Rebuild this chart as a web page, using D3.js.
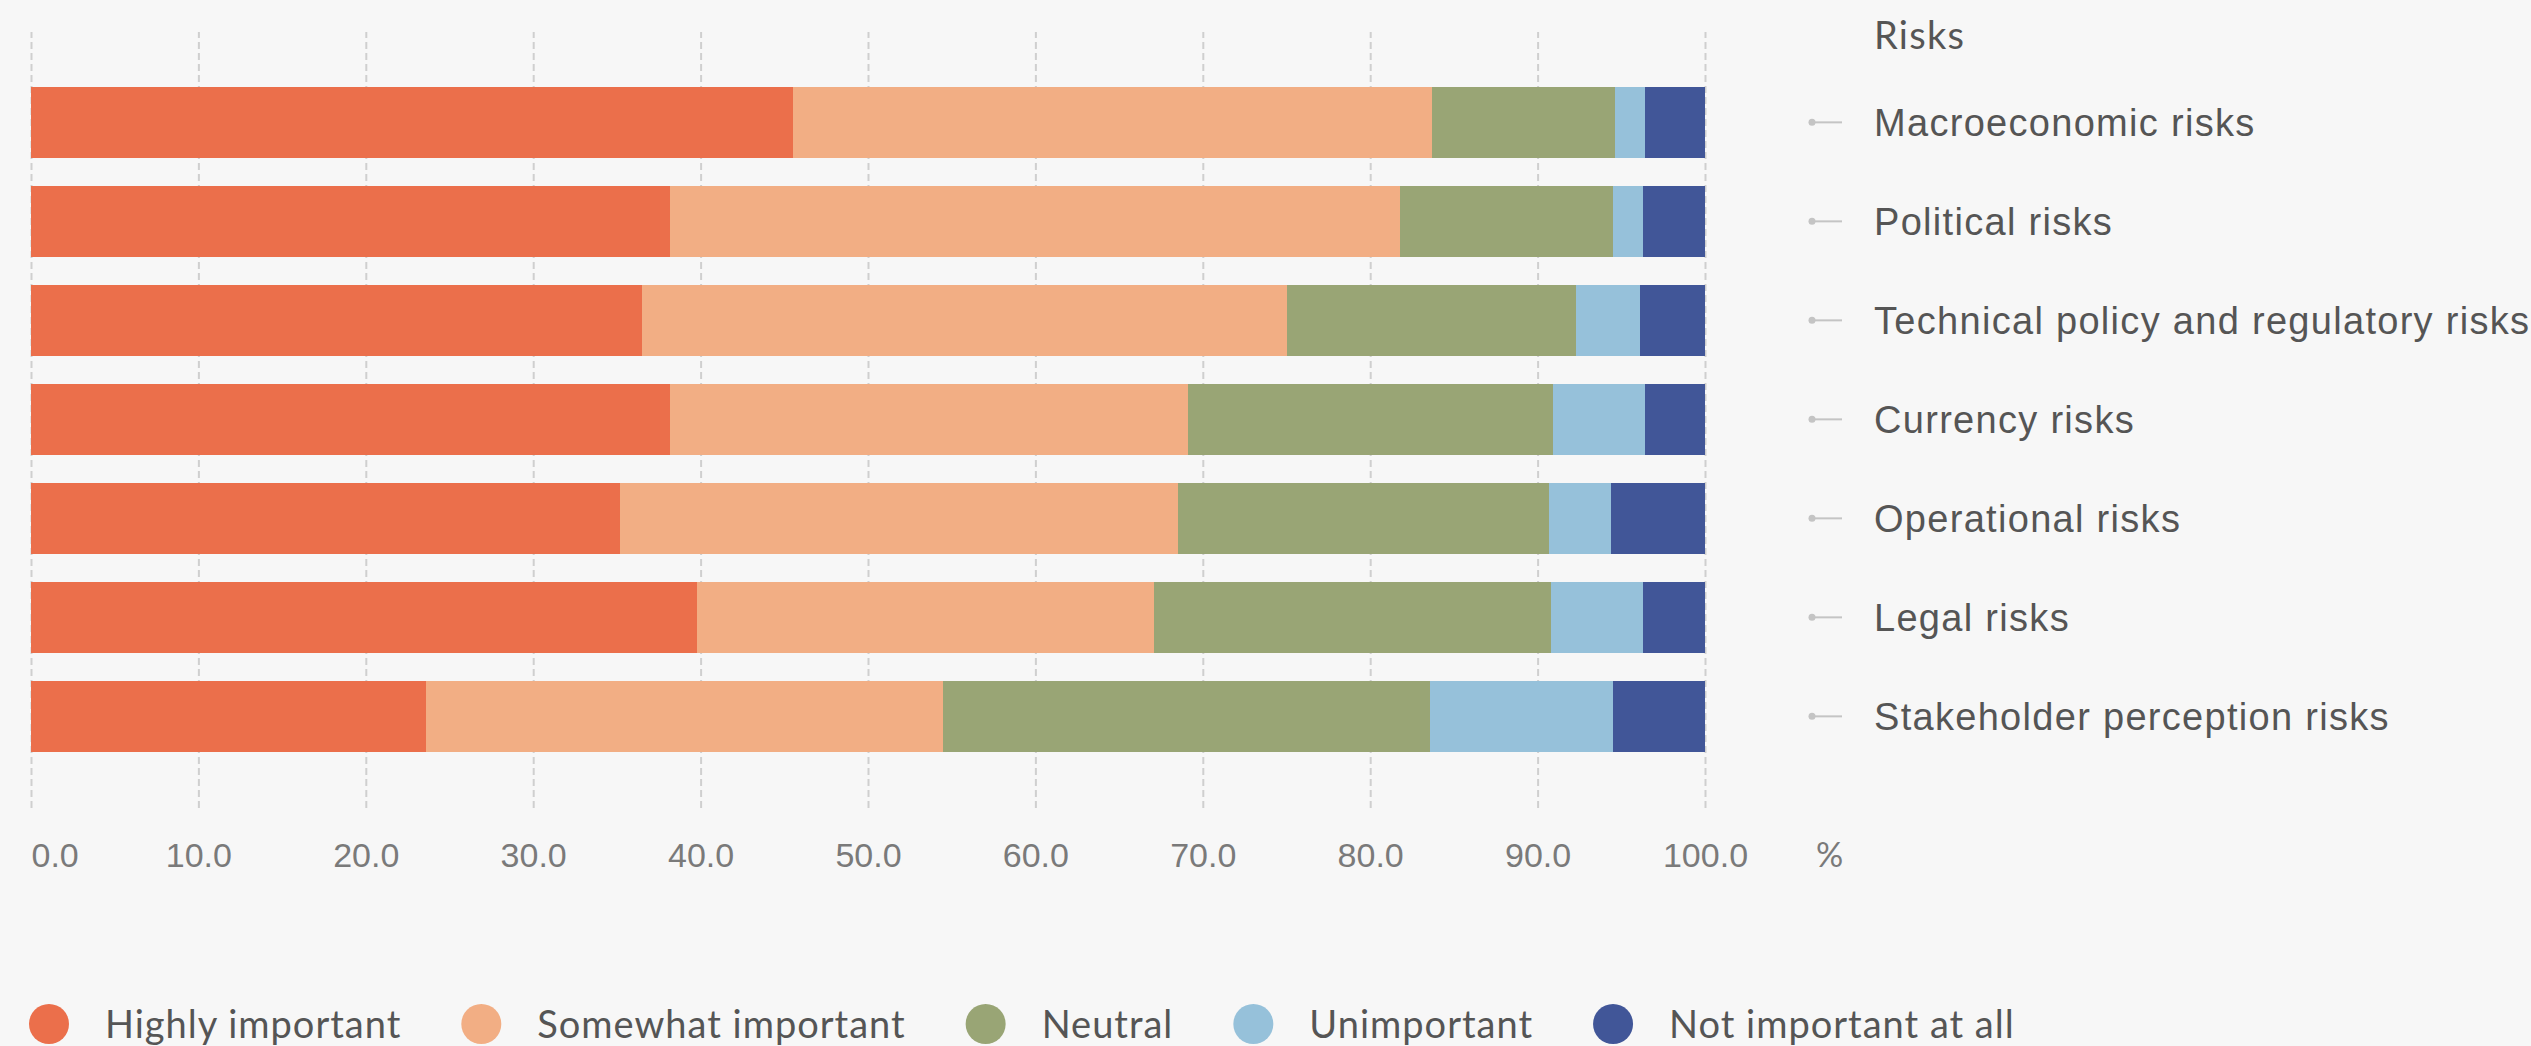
<!DOCTYPE html>
<html>
<head>
<meta charset="utf-8">
<script src="https://cdn.jsdelivr.net/npm/d3@7"></script>
<style>
  html, body { margin: 0; padding: 0; background: #f7f7f7; }
  svg { display: block; font-family: Lato, "Open Sans", sans-serif; }
</style>
</head>
<body>
<svg id="chart" width="2531" height="1046"></svg>
<script>
// Survey: how important is each risk (share of respondents, %)
const categories = [
  "Macroeconomic risks",
  "Political risks",
  "Technical policy and regulatory risks",
  "Currency risks",
  "Operational risks",
  "Legal risks",
  "Stakeholder perception risks"
];
const seriesNames = ["Highly important", "Somewhat important", "Neutral", "Unimportant", "Not important at all"];
const highlyImportant   = [45.5, 38.2, 36.5, 38.2, 35.2, 39.8, 23.6];
const somewhatImportant = [38.2, 43.6, 38.5, 30.9, 33.3, 27.3, 30.9];
const neutral           = [10.9, 12.7, 17.3, 21.8, 22.2, 23.7, 29.1];
const unimportant       = [ 1.8,  1.8,  3.8,  5.5,  3.7,  5.5, 10.9];
const notImportant      = [ 3.6,  3.7,  3.9,  3.6,  5.6,  3.7,  5.5];
const xTicks = [0, 10, 20, 30, 40, 50, 60, 70, 80, 90, 100];
const axisTitle = "Risks";
const unitLabel = "%";

const colors = ["#eb6f4b", "#f2ae84", "#99a575", "#96c1da", "#415698"];

const rows = categories.map((c, i) => ({
  category: c,
  "Highly important": highlyImportant[i],
  "Somewhat important": somewhatImportant[i],
  "Neutral": neutral[i],
  "Unimportant": unimportant[i],
  "Not important at all": notImportant[i]
}));

const svg = d3.select("#chart");
svg.append("rect").attr("width", 2531).attr("height", 1046).attr("fill", "#f7f7f7");

const gridTop = 32, gridBottom = 808;
const x = d3.scaleLinear().domain([0, 100]).range([31, 1705]);
const y = d3.scaleBand().domain(categories)
  .range([72.85, 765.85]).paddingInner(0.286).paddingOuter(0.143);
const color = d3.scaleOrdinal().domain(seriesNames).range(colors);

// vertical dashed grid + bottom tick labels
const xAxis = d3.axisBottom(x).tickValues(xTicks).tickFormat(d3.format(".1f"))
  .tickSize(-(gridBottom - gridTop)).tickPadding(0);
const gx = svg.append("g").attr("transform", `translate(0,${gridBottom})`).call(xAxis);
gx.select(".domain").remove();
gx.selectAll(".tick line")
  .attr("stroke", "#cfcfcf").attr("stroke-width", 2).attr("stroke-dasharray", "7,4");
gx.selectAll(".tick text")
  .attr("y", 59).attr("dy", 0)
  .attr("fill", "#7a7a7a").attr("font-size", 34)
  .attr("text-anchor", (d, i) => i === 0 ? "start" : "middle");
svg.append("text").attr("x", 1816).attr("y", 867)
  .attr("fill", "#7a7a7a").attr("font-size", 34).text(unitLabel);

// stacked bars
const stack = d3.stack().keys(seriesNames);
const layers = stack(rows);
svg.append("g").selectAll("g").data(layers).join("g")
  .attr("fill", d => color(d.key))
  .selectAll("rect").data(d => d).join("rect")
  .attr("x", d => x(d[0]))
  .attr("y", d => y(d.data.category))
  .attr("width", d => x(d[1]) - x(d[0]))
  .attr("height", y.bandwidth())
  .attr("shape-rendering", "crispEdges");

// category axis on the right
const yAxis = d3.axisRight(y).tickSize(30).tickPadding(32);
const gy = svg.append("g").attr("transform", "translate(1812,0)").call(yAxis);
gy.select(".domain").remove();
gy.selectAll(".tick line").attr("stroke", "#c4c4c4").attr("stroke-width", 2);
gy.selectAll(".tick").append("circle").attr("r", 3.5).attr("fill", "#c4c4c4");
gy.selectAll(".tick text")
  .attr("fill", "#555").attr("font-size", 38).attr("letter-spacing", 1.3).attr("dy", "0.36em");
svg.append("text").attr("x", 1874).attr("y", 49)
  .attr("fill", "#555").attr("font-size", 38).attr("letter-spacing", 1.3).text(axisTitle);

// legend
const legend = svg.append("g").attr("transform", "translate(0,1024)");
let cx = 49;
seriesNames.forEach((name, i) => {
  const item = legend.append("g");
  item.append("circle").attr("cx", cx).attr("cy", 0).attr("r", 20).attr("fill", colors[i]);
  const t = item.append("text").attr("x", cx + 56).attr("y", 14)
    .attr("fill", "#555").attr("font-size", 38).attr("letter-spacing", 1).text(name);
  const w = t.node().getComputedTextLength();
  cx = cx + 56 + w + 60 + 20;
});
</script>
</body>
</html>
